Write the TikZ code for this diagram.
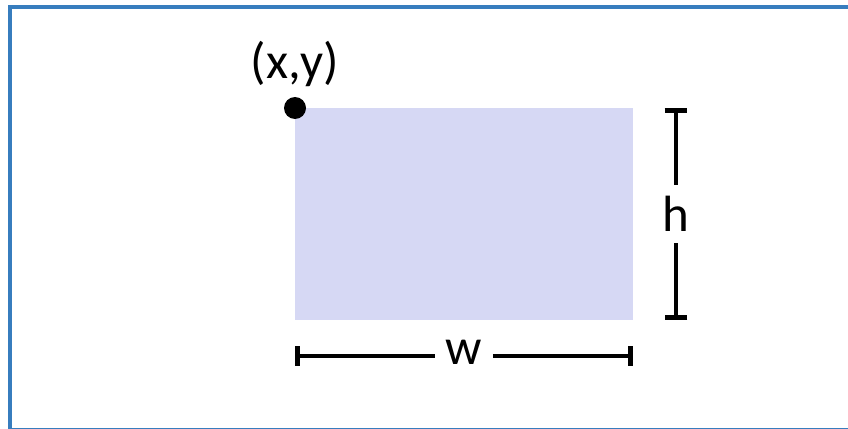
\documentclass[tikz,border=0pt]{standalone}
\usepackage{fontspec}
\setmainfont{Carlito}
\usetikzlibrary{arrows.meta}
\definecolor{frameblue}{RGB}{55,125,190}
\definecolor{boxfill}{RGB}{214,216,244}
\begin{document}
\begin{tikzpicture}[x=0.02cm, y=-0.02cm, line cap=butt,
    dim/.style={line width=2.6pt},
    lbl/.style={font=\fontsize{29}{34}\selectfont, inner sep=0pt}]
  \useasboundingbox (0, 0) rectangle (848, 429);

  % Outer frame (cut at the right and bottom)
  \draw[frameblue, line width=2.4pt] (10, 7) rectangle (856, 430);

  % Rectangle and its corner
  \fill[boxfill] (295, 108) rectangle (633, 320);
  \fill (295, 108) circle (11);
  \node[lbl] (xy) at (295, 64) {(x,y)};

  % Width
  \coordinate (wl) at (295, 356);
  \coordinate (wr) at (633, 356);
  \node[lbl, minimum width=1.14cm] (w) at (464, 352) {w};
  \draw[dim, {Bar[width=11pt]}-] (wl) -- (w.west |- wl);
  \draw[dim, -{Bar[width=11pt]}] (w.east |- wr) -- (wr);

  % Height
  \coordinate (ht) at (676, 108);
  \coordinate (hb) at (676, 320);
  \node[lbl, minimum height=1.16cm] (h) at (676, 214) {h};
  \draw[dim, {Bar[width=13pt]}-] (ht) -- (h.north -| ht);
  \draw[dim, -{Bar[width=13pt]}] (h.south -| hb) -- (hb);
\end{tikzpicture}
\end{document}
